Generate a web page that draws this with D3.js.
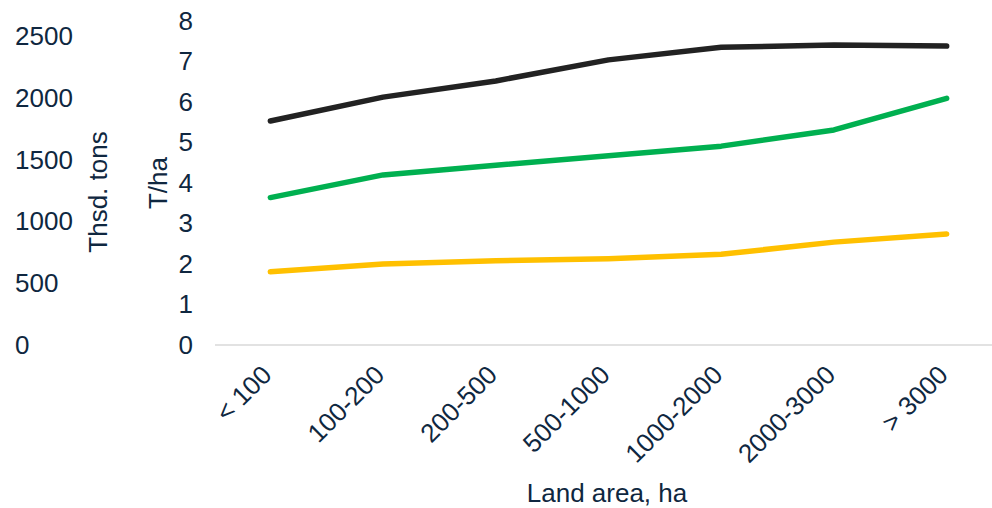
<!DOCTYPE html>
<html>
<head>
<meta charset="utf-8">
<script src="https://cdn.jsdelivr.net/npm/d3@7"></script>
<style>
  html, body { margin: 0; padding: 0; background: #fff; }
  svg { display: block; }
  text { font-family: "Liberation Sans", Arial, sans-serif; fill: #0f2740; }
</style>
</head>
<body>
<svg id="chart" width="992" height="508"></svg>
<script>
// Farm size groups
const categories = ["< 100", "100-200", "200-500", "500-1000", "1000-2000", "2000-3000", "> 3000"];

// Yield, T/ha
const seriesTop    = [5.53, 6.12, 6.52, 7.04, 7.35, 7.41, 7.38];
const seriesMiddle = [3.64, 4.20, 4.44, 4.67, 4.91, 5.31, 6.09];
const seriesBottom = [1.81, 2.00, 2.08, 2.13, 2.24, 2.54, 2.74];

// Axis tick labels
const leftTicks  = [0, 500, 1000, 1500, 2000, 2500];
const rightTicks = [0, 1, 2, 3, 4, 5, 6, 7, 8];

const lines = [
  { values: seriesBottom, color: "#ffc000" },
  { values: seriesMiddle, color: "#00b050" },
  { values: seriesTop,    color: "#222222" }
];

const svg = d3.select("#chart");
const plotTop = 21, plotBottom = 345;

const x = d3.scalePoint().domain(categories).range([214, 1003]).padding(0.5);
const yRight = d3.scaleLinear().domain([0, 8]).range([plotBottom, plotTop]);
const yLeft = d3.scaleLinear().domain([0, 2627]).range([plotBottom, plotTop]);

// Left axis: Thsd. tons (labels only, left aligned)
const leftAxis = svg.append("g").attr("transform", "translate(15,0)")
  .call(d3.axisRight(yLeft).tickValues(leftTicks).tickSize(0).tickPadding(0).tickFormat(d3.format("d")));
leftAxis.select(".domain").remove();
leftAxis.selectAll("text").style("font-size", "26px").attr("dy", "0.32em").attr("x", 0)
  .attr("text-anchor", "start");

// Right (inner) axis: T/ha
const rightAxis = svg.append("g").attr("transform", "translate(193,0)")
  .call(d3.axisLeft(yRight).tickValues(rightTicks).tickSize(0).tickPadding(0).tickFormat(d3.format("d")));
rightAxis.select(".domain").remove();
rightAxis.selectAll("text").style("font-size", "26px").attr("dy", "0.32em");

// Axis titles
svg.append("text").attr("transform", "translate(107,192) rotate(-90)")
  .attr("text-anchor", "middle").style("font-size", "26px").text("Thsd. tons");
svg.append("text").attr("transform", "translate(167,183) rotate(-90)")
  .attr("text-anchor", "middle").style("font-size", "26px").text("T/ha");

// Category axis baseline
svg.append("line")
  .attr("x1", 215).attr("x2", 1003)
  .attr("y1", yRight(0)).attr("y2", yRight(0))
  .attr("stroke", "#d9d9d9").attr("stroke-width", 1.5);

// Rotated category labels
const xAxis = svg.append("g").attr("transform", `translate(0,${plotBottom})`)
  .call(d3.axisBottom(x).tickSize(0).tickPadding(0));
xAxis.select(".domain").remove();
xAxis.selectAll("text")
  .style("font-size", "26px")
  .attr("text-anchor", "end")
  .attr("dy", "0.35em")
  .attr("transform", "translate(-4,25) rotate(-45)")
  .attr("y", 0);

svg.append("text").attr("x", 607).attr("y", 502)
  .attr("text-anchor", "middle").style("font-size", "26px").text("Land area, ha");

// Series lines
const lineGen = d3.line()
  .x((d, i) => x(categories[i]))
  .y(d => yRight(d));

svg.append("g").selectAll("path").data(lines).join("path")
  .attr("d", d => lineGen(d.values))
  .attr("fill", "none")
  .attr("stroke", d => d.color)
  .attr("stroke-width", 5.5)
  .attr("stroke-linecap", "round")
  .attr("stroke-linejoin", "round");
</script>
</body>
</html>
